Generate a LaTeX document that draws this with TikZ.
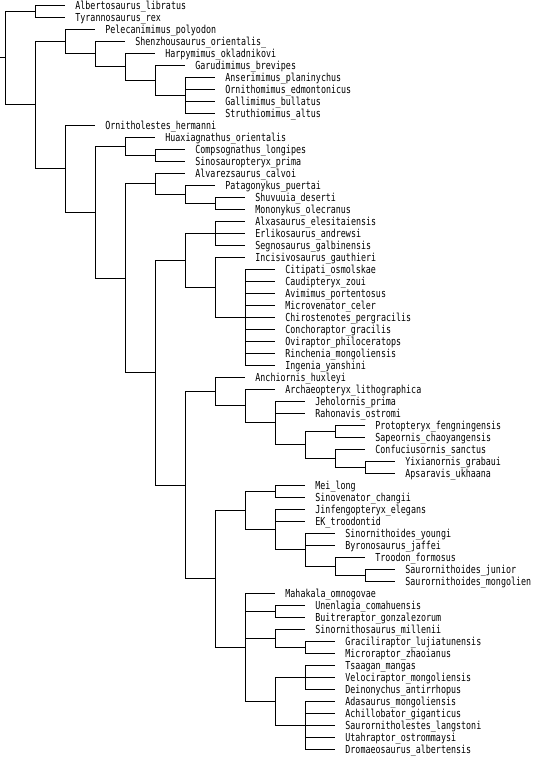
\documentclass[tikz,border=0pt]{standalone}
\usepackage{fontspec}
\newfontfamily\taxonfont[FakeStretch=0.76]{DejaVu Sans Mono}
\tikzset{
  branch/.style={line width=1pt},
  taxon/.style={font=\taxonfont\fontsize{11}{11}\selectfont, inner sep=0pt, text height=8.4pt, text depth=0pt},
  leafnode/.style={inner sep=0pt, minimum size=0pt, label={[taxon,xshift=9.5pt]right:#1}},
}
\begin{document}
\begin{tikzpicture}[x=1pt,y=-1pt]
\fill[white] (0,0) rectangle (534,758);

% Stem, root and the two basal clades.
\coordinate (stem) at (0,57.97);
\coordinate (root) at (5,57.97);
\coordinate (tyranno) at (35,11);
\coordinate (coelur) at (35,104.94);
\draw[branch] (stem) -- (root) (root) |- (tyranno) (root) |- (coelur);

% Tyrannosaurids.
\node[leafnode={Albertosaurus\_libratus}] (albertosaurus) at (65,5) {};
\node[leafnode={Tyrannosaurus\_rex}] (tyrannosaurus) at (65,17) {};
\draw[branch] (tyranno) |- (albertosaurus) (tyranno) |- (tyrannosaurus);

% Ornithomimosaurs.
\coordinate (ornmim) at (65,41.375);
\coordinate (ornmimB) at (95,53.75);
\coordinate (ornmimC) at (125,66.5);
\coordinate (ornmimD) at (155,80);
\coordinate (ornmimE) at (185,95);
\node[leafnode={Pelecanimimus\_polyodon}] (pelecanimimus) at (95,29) {};
\node[leafnode={Shenzhousaurus\_orientalis\_}] (shenzhousaurus) at (125,41) {};
\node[leafnode={Harpymimus\_okladnikovi}] (harpymimus) at (155,53) {};
\node[leafnode={Garudimimus\_brevipes}] (garudimimus) at (185,65) {};
\node[leafnode={Anserimimus\_planinychus}] (anserimimus) at (215,77) {};
\node[leafnode={Ornithomimus\_edmontonicus}] (ornithomimus) at (215,89) {};
\node[leafnode={Gallimimus\_bullatus}] (gallimimus) at (215,101) {};
\node[leafnode={Struthiomimus\_altus}] (struthiomimus) at (215,113) {};
\draw[branch] (coelur) |- (ornmim)
  (ornmim) |- (pelecanimimus) (ornmim) |- (ornmimB)
  (ornmimB) |- (shenzhousaurus) (ornmimB) |- (ornmimC)
  (ornmimC) |- (harpymimus) (ornmimC) |- (ornmimD)
  (ornmimD) |- (garudimimus) (ornmimD) |- (ornmimE)
  (ornmimE) |- (anserimimus) (ornmimE) |- (ornithomimus)
  (ornmimE) |- (gallimimus) (ornmimE) |- (struthiomimus);

% Maniraptorans and compsognathids.
\coordinate (manir) at (65,168.5);
\coordinate (manirB) at (95,212);
\coordinate (compso) at (125,146);
\coordinate (compsoB) at (155,155);
\coordinate (manirC) at (125,278);
\node[leafnode={Ornitholestes\_hermanni}] (ornitholestes) at (95,125) {};
\node[leafnode={Huaxiagnathus\_orientalis}] (huaxiagnathus) at (155,137) {};
\node[leafnode={Compsognathus\_longipes}] (compsognathus) at (185,149) {};
\node[leafnode={Sinosauropteryx\_prima}] (sinosauropteryx) at (185,161) {};
\draw[branch] (coelur) |- (manir)
  (manir) |- (ornitholestes) (manir) |- (manirB)
  (manirB) |- (compso) (manirB) |- (manirC)
  (compso) |- (huaxiagnathus) (compso) |- (compsoB)
  (compsoB) |- (compsognathus) (compsoB) |- (sinosauropteryx);

% Alvarezsaurids.
\coordinate (alvar) at (155,183.5);
\coordinate (alvarB) at (185,194);
\coordinate (alvarC) at (215,203);
\node[leafnode={Alvarezsaurus\_calvoi}] (alvarezsaurus) at (185,173) {};
\node[leafnode={Patagonykus\_puertai}] (patagonykus) at (215,185) {};
\node[leafnode={Shuvuuia\_deserti}] (shuvuuia) at (245,197) {};
\node[leafnode={Mononykus\_olecranus}] (mononykus) at (245,209) {};
\draw[branch] (manirC) |- (alvar)
  (alvar) |- (alvarezsaurus) (alvar) |- (alvarB)
  (alvarB) |- (patagonykus) (alvarB) |- (alvarC)
  (alvarC) |- (shuvuuia) (alvarC) |- (mononykus);

% Therizinosaurs and oviraptorosaurs.
\coordinate (manirD) at (155,372.5);
\coordinate (ovther) at (185,260);
\coordinate (therizino) at (215,233);
\coordinate (ovirap) at (215,287);
\coordinate (ovirapB) at (245,317);
\node[leafnode={Alxasaurus\_elesitaiensis}] (alxasaurus) at (245,221) {};
\node[leafnode={Erlikosaurus\_andrewsi}] (erlikosaurus) at (245,233) {};
\node[leafnode={Segnosaurus\_galbinensis}] (segnosaurus) at (245,245) {};
\node[leafnode={Incisivosaurus\_gauthieri}] (incisivosaurus) at (245,257) {};
\node[leafnode={Citipati\_osmolskae}] (citipati) at (275,269) {};
\node[leafnode={Caudipteryx\_zoui}] (caudipteryx) at (275,281) {};
\node[leafnode={Avimimus\_portentosus}] (avimimus) at (275,293) {};
\node[leafnode={Microvenator\_celer}] (microvenator) at (275,305) {};
\node[leafnode={Chirostenotes\_pergracilis}] (chirostenotes) at (275,317) {};
\node[leafnode={Conchoraptor\_gracilis}] (conchoraptor) at (275,329) {};
\node[leafnode={Oviraptor\_philoceratops}] (oviraptor) at (275,341) {};
\node[leafnode={Rinchenia\_mongoliensis}] (rinchenia) at (275,353) {};
\node[leafnode={Ingenia\_yanshini}] (ingenia) at (275,365) {};
\draw[branch] (manirC) |- (manirD)
  (manirD) |- (ovther)
  (ovther) |- (therizino) (ovther) |- (ovirap)
  (therizino) |- (alxasaurus) (therizino) |- (erlikosaurus) (therizino) |- (segnosaurus)
  (ovirap) |- (incisivosaurus) (ovirap) |- (ovirapB)
  (ovirapB) |- (citipati) (ovirapB) |- (caudipteryx) (ovirapB) |- (avimimus)
  (ovirapB) |- (microvenator) (ovirapB) |- (chirostenotes) (ovirapB) |- (conchoraptor)
  (ovirapB) |- (oviraptor) (ovirapB) |- (rinchenia) (ovirapB) |- (ingenia);

% Avialans.
\coordinate (paraves) at (185,485);
\coordinate (avial) at (215,391.44);
\coordinate (avialB) at (245,405.88);
\coordinate (avialC) at (275,422.75);
\coordinate (aves) at (305,444.5);
\coordinate (protosap) at (335,431);
\coordinate (confu) at (335,458);
\coordinate (ornithuro) at (365,467);
\node[leafnode={Anchiornis\_huxleyi}] (anchiornis) at (245,377) {};
\node[leafnode={Archaeopteryx\_lithographica}] (archaeopteryx) at (275,389) {};
\node[leafnode={Jeholornis\_prima}] (jeholornis) at (305,401) {};
\node[leafnode={Rahonavis\_ostromi}] (rahonavis) at (305,413) {};
\node[leafnode={Protopteryx\_fengningensis}] (protopteryx) at (365,425) {};
\node[leafnode={Sapeornis\_chaoyangensis}] (sapeornis) at (365,437) {};
\node[leafnode={Confuciusornis\_sanctus}] (confuciusornis) at (365,449) {};
\node[leafnode={Yixianornis\_grabaui}] (yixianornis) at (395,461) {};
\node[leafnode={Apsaravis\_ukhaana}] (apsaravis) at (395,473) {};
\draw[branch] (manirD) |- (paraves)
  (paraves) |- (avial)
  (avial) |- (anchiornis) (avial) |- (avialB)
  (avialB) |- (archaeopteryx) (avialB) |- (avialC)
  (avialC) |- (jeholornis) (avialC) |- (rahonavis) (avialC) |- (aves)
  (aves) |- (protosap) (aves) |- (confu)
  (protosap) |- (protopteryx) (protosap) |- (sapeornis)
  (confu) |- (confuciusornis) (confu) |- (ornithuro)
  (ornithuro) |- (yixianornis) (ornithuro) |- (apsaravis);

% Troodontids.
\coordinate (deinon) at (215,578.56);
\coordinate (troodo) at (245,510.13);
\coordinate (troodoA) at (275,491);
\coordinate (troodoB) at (275,529.25);
\coordinate (troodoC) at (305,549.5);
\coordinate (troodoD) at (335,566);
\coordinate (sauror) at (365,575);
\node[leafnode={Mei\_long}] (mei) at (305,485) {};
\node[leafnode={Sinovenator\_changii}] (sinovenator) at (305,497) {};
\node[leafnode={Jinfengopteryx\_elegans}] (jinfengopteryx) at (305,509) {};
\node[leafnode={EK\_troodontid}] (ektroodontid) at (305,521) {};
\node[leafnode={Sinornithoides\_youngi}] (sinornithoides) at (335,533) {};
\node[leafnode={Byronosaurus\_jaffei}] (byronosaurus) at (335,545) {};
\node[leafnode={Troodon\_formosus}] (troodon) at (365,557) {};
\node[leafnode={Saurornithoides\_junior}] (saurjunior) at (395,569) {};
\node[leafnode={Saurornithoides\_mongolien}] (saurmongol) at (395,581) {};
\draw[branch] (paraves) |- (deinon)
  (deinon) |- (troodo)
  (troodo) |- (troodoA) (troodo) |- (troodoB)
  (troodoA) |- (mei) (troodoA) |- (sinovenator)
  (troodoB) |- (jinfengopteryx) (troodoB) |- (ektroodontid) (troodoB) |- (troodoC)
  (troodoC) |- (sinornithoides) (troodoC) |- (byronosaurus) (troodoC) |- (troodoD)
  (troodoD) |- (troodon) (troodoD) |- (sauror)
  (sauror) |- (saurjunior) (sauror) |- (saurmongol);

% Dromaeosaurids.
\coordinate (dromae) at (245,647);
\coordinate (unenl) at (275,611);
\coordinate (micror) at (275,638);
\coordinate (microrB) at (305,647);
\coordinate (eudrom) at (275,701);
\coordinate (veloc) at (305,677);
\coordinate (dromB) at (305,725);
\node[leafnode={Mahakala\_omnogovae}] (mahakala) at (275,593) {};
\node[leafnode={Unenlagia\_comahuensis}] (unenlagia) at (305,605) {};
\node[leafnode={Buitreraptor\_gonzalezorum}] (buitreraptor) at (305,617) {};
\node[leafnode={Sinornithosaurus\_millenii}] (sinornithosaurus) at (305,629) {};
\node[leafnode={Graciliraptor\_lujiatunensis}] (graciliraptor) at (335,641) {};
\node[leafnode={Microraptor\_zhaoianus}] (microraptor) at (335,653) {};
\node[leafnode={Tsaagan\_mangas}] (tsaagan) at (335,665) {};
\node[leafnode={Velociraptor\_mongoliensis}] (velociraptor) at (335,677) {};
\node[leafnode={Deinonychus\_antirrhopus}] (deinonychus) at (335,689) {};
\node[leafnode={Adasaurus\_mongoliensis}] (adasaurus) at (335,701) {};
\node[leafnode={Achillobator\_giganticus}] (achillobator) at (335,713) {};
\node[leafnode={Saurornitholestes\_langstoni}] (saurornitholestes) at (335,725) {};
\node[leafnode={Utahraptor\_ostrommaysi}] (utahraptor) at (335,737) {};
\node[leafnode={Dromaeosaurus\_albertensis}] (dromaeosaurus) at (335,749) {};
\draw[branch] (deinon) |- (dromae)
  (dromae) |- (mahakala) (dromae) |- (unenl) (dromae) |- (micror) (dromae) |- (eudrom)
  (unenl) |- (unenlagia) (unenl) |- (buitreraptor)
  (micror) |- (sinornithosaurus) (micror) |- (microrB)
  (microrB) |- (graciliraptor) (microrB) |- (microraptor)
  (eudrom) |- (veloc) (eudrom) |- (dromB)
  (veloc) |- (tsaagan) (veloc) |- (velociraptor) (veloc) |- (deinonychus)
  (dromB) |- (adasaurus) (dromB) |- (achillobator) (dromB) |- (saurornitholestes)
  (dromB) |- (utahraptor) (dromB) |- (dromaeosaurus);
\end{tikzpicture}
\end{document}
